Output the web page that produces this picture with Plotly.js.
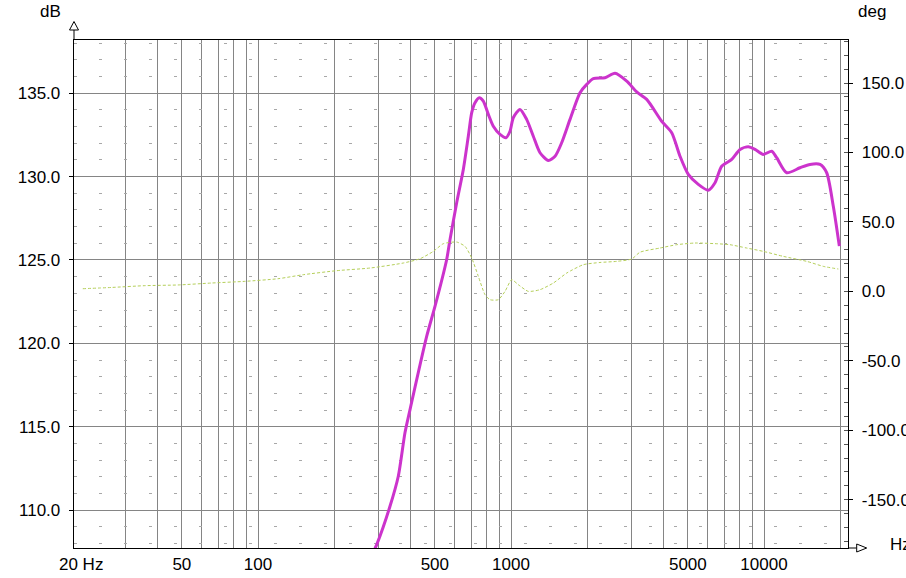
<!DOCTYPE html>
<html>
<head>
<meta charset="utf-8">
<script src="https://cdn.plot.ly/plotly-3.0.1.min.js"></script>
<style>html,body{margin:0;padding:0;background:#fff;}#chart{width:906px;height:578px;}</style>
</head>
<body>
<div id="chart"></div>
<script>
// SPL (dB) curve
const splFreq = [290, 294.6, 332.4, 358.5, 381.1, 398.9, 464.4, 500.9, 556.9, 574.1, 610.2, 647.9, 678.0, 699.4, 720.7, 749.5, 777.3, 813.5, 851.2, 904.7, 955.4, 991, 1021, 1085, 1153, 1225, 1302, 1404, 1493, 1586, 1711, 1874, 1992, 2115, 2353, 2577, 2867, 3140, 3438, 3941, 4317, 4656, 5021, 5499, 6024, 6403, 6804, 7454, 8040, 8669, 9214, 9937, 10725, 11225, 12295, 13878, 15200, 16650, 17690, 18790, 19850];
const splDb = [107.7, 107.93, 110.23, 112.03, 114.65, 116.03, 120.43, 122.23, 125.03, 126.23, 128.45, 130.43, 132.42, 133.83, 134.43, 134.73, 134.52, 133.73, 133.02, 132.53, 132.33, 132.72, 133.53, 134.03, 133.43, 132.42, 131.43, 130.97, 131.22, 132.03, 133.43, 135.03, 135.53, 135.87, 135.93, 136.19, 135.72, 135.08, 134.63, 133.32, 132.63, 131.22, 130.13, 129.53, 129.18, 129.63, 130.62, 131.03, 131.63, 131.79, 131.63, 131.33, 131.52, 131.13, 130.23, 130.53, 130.73, 130.73, 130.23, 128.22, 125.83];

// Phase (deg) curve
const phFreq = [20.3, 26.3, 35.7, 48.3, 65.4, 88.6, 120, 151, 204.7, 277.2, 375.2, 436.9, 493.2, 540, 610.2, 658, 699.4, 742.8, 789.4, 826, 891, 947, 1006, 1069, 1170, 1302, 1470, 1661, 1931, 2248, 2617, 3000, 3236, 3880, 4518, 5338, 6501, 7338, 8543, 9937, 11920, 14750, 17160, 19670];
const phDeg = [1.9, 2.8, 4.1, 4.6, 6.0, 7.2, 9.1, 12.0, 14.9, 16.8, 20.4, 23.5, 28.8, 34.3, 35.5, 32.4, 24.0, 10.8, -2.4, -6.0, -6.0, 0.0, 8.4, 4.8, 0.0, 1.2, 6.0, 13.2, 19.2, 20.8, 21.6, 23.3, 28.2, 31.2, 33.6, 34.8, 34.3, 33.6, 31.2, 28.8, 25.2, 21.6, 18.0, 16.1];

// Tick labels
const xTickVals = [20, 50, 100, 500, 1000, 5000, 10000];
const xTickText = ["20 Hz", "50", "100", "500", "1000", "5000", "10000"];
const yTickVals = [110, 115, 120, 125, 130, 135];
const yTickText = ["110.0", "115.0", "120.0", "125.0", "130.0", "135.0"];
const y2TickVals = [-150, -100, -50, 0, 50, 100, 150];
const y2TickText = ["-150.0", "-100.0", "-50.0", "0.0", "50.0", "100.0", "150.0"];

// log grid lines (2..9 x each decade)
const gridVals = [];
[10, 100, 1000, 10000].forEach(d => { for (let m = 1; m <= 9; m++) { const v = d * m; if (v > 25 && v < 21000) gridVals.push(v); } });

const FONT = "Liberation Sans, Arial, sans-serif";
const GRID = "#858585";

const traces = [
  {x: phFreq, y: phDeg, yaxis: "y2", type: "scatter", mode: "lines",
   line: {color: "#b5cf5a", width: 1, dash: "3px,2px", shape: "spline", smoothing: 0.6}, hoverinfo: "skip"},
  {x: splFreq, y: splDb, type: "scatter", mode: "lines",
   line: {color: "#cc33cc", width: 3, shape: "spline", smoothing: 0.7}, hoverinfo: "skip"}
];

const L = 74, R = 848, T = 40.3, B = 548.3, W = R - L, H = B - T;
const px = v => v / W, py = v => v / H;

const layout = {
  width: 906, height: 578,
  margin: {l: L, r: 906 - R, t: T, b: 578 - B, pad: 0},
  paper_bgcolor: "#ffffff", plot_bgcolor: "#ffffff",
  showlegend: false,
  font: {family: FONT, size: 17, color: "#000"},
  xaxis: {
    type: "log", range: [1.2727, 4.332],
    tickmode: "array", tickvals: xTickVals, ticktext: xTickText,
    showgrid: false, ticks: "", zeroline: false,
    showline: true, linecolor: "#000", linewidth: 1.3, mirror: true,
    tickfont: {family: FONT, size: 17, color: "#000"},
    ticklabelstandoff: 0,
    minor: {tickmode: "array", tickvals: gridVals, showgrid: true, gridcolor: GRID, gridwidth: 1, ticks: ""}
  },
  yaxis: {
    range: [107.73, 138.19],
    tickmode: "array", tickvals: yTickVals, ticktext: yTickText,
    showgrid: true, gridcolor: GRID, gridwidth: 1, zeroline: false,
    showline: true, linecolor: "#000", linewidth: 1.3, mirror: true,
    ticks: "outside", ticklen: 4, tickcolor: "#000",
    ticklabelstandoff: 5,
    tickfont: {family: FONT, size: 17, color: "#000"},
    minor: {dtick: 1, showgrid: true, gridcolor: "#a8a8a8", gridwidth: 1, griddash: "3px,22px", ticks: ""}
  },
  yaxis2: {
    overlaying: "y", side: "right",
    range: [-184.8, 181],
    tickmode: "array", tickvals: y2TickVals, ticktext: y2TickText,
    showgrid: false, zeroline: false,
    showline: true, linecolor: "#000", linewidth: 1.3,
    ticks: "outside", ticklen: 4, tickcolor: "#000",
    ticklabelstandoff: 5,
    tickfont: {family: FONT, size: 17, color: "#000"},
    minor: {dtick: 10, ticks: "inside", ticklen: 4, tickcolor: "#555", showgrid: false}
  },
  annotations: [
    {text: "dB", xref: "paper", yref: "paper", x: px(50 - L), y: 1 + py(T - 12), xanchor: "center", yanchor: "middle", showarrow: false, font: {family: FONT, size: 17, color: "#000"}},
    {text: "deg", xref: "paper", yref: "paper", x: px(872 - L), y: 1 + py(T - 12), xanchor: "center", yanchor: "middle", showarrow: false, font: {family: FONT, size: 17, color: "#000"}},
    {text: "Hz", xref: "paper", yref: "paper", x: px(888 - L), y: py(B - 545), xanchor: "left", yanchor: "middle", showarrow: false, font: {family: FONT, size: 17, color: "#000"}}
  ],
  shapes: [
    {type: "line", xref: "paper", yref: "paper", x0: 0, x1: 0, y0: 1, y1: 1 + py(10), line: {color: "#000", width: 1}},
    {type: "path", xref: "paper", yref: "paper",
     path: `M ${-px(4.5)} ${1 + py(10)} L ${px(4.5)} ${1 + py(10)} L 0 ${1 + py(18.5)} Z`,
     fillcolor: "#fff", line: {color: "#000", width: 1}},
    {type: "line", xref: "paper", yref: "paper", x0: 1, x1: 1 + px(8.7), y0: 0, y1: 0, line: {color: "#000", width: 1}},
    {type: "path", xref: "paper", yref: "paper",
     path: `M ${1 + px(8.7)} ${py(4)} L ${1 + px(8.7)} ${-py(4)} L ${1 + px(18.7)} 0 Z`,
     fillcolor: "#fff", line: {color: "#000", width: 1}}
  ]
};

Plotly.newPlot("chart", traces, layout, {displayModeBar: false, staticPlot: true});
</script>
</body>
</html>
